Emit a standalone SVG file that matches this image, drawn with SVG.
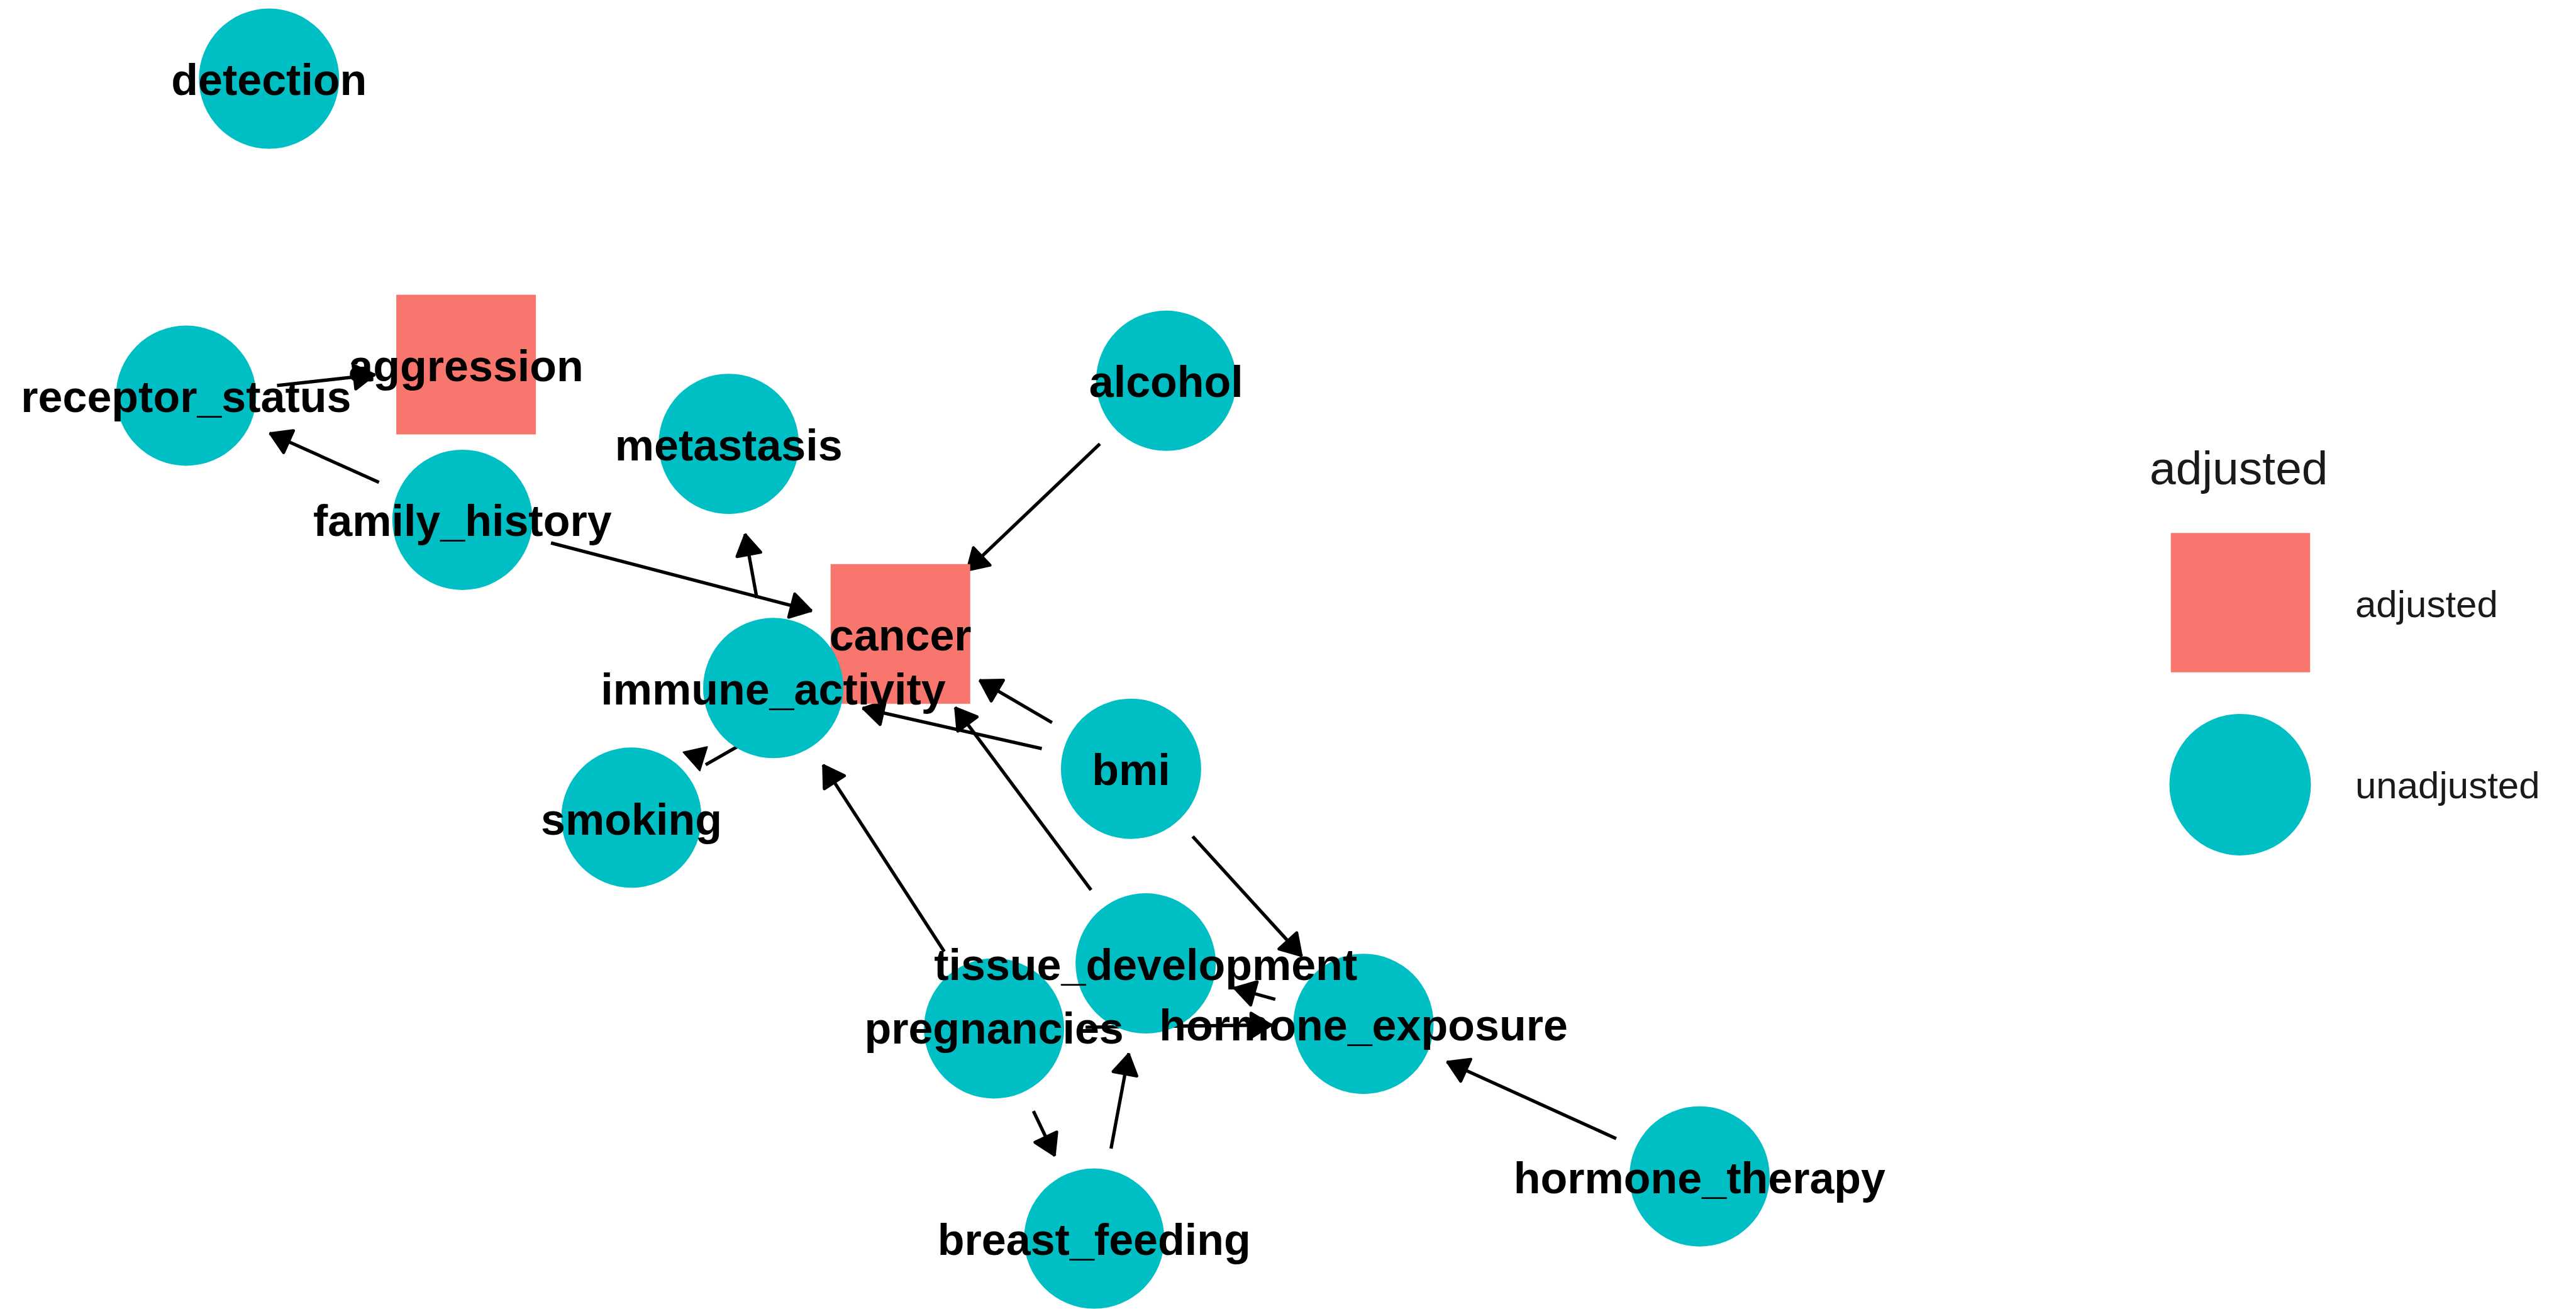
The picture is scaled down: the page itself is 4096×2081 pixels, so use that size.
<svg xmlns="http://www.w3.org/2000/svg" width="4096" height="2081" viewBox="0 0 4096 2081">
<defs>
<style>
.edge{stroke:#000;stroke-width:5.3;fill:none;stroke-linecap:butt;marker-end:url(#ah)}
.circ{fill:#00BFC4}
.sq{fill:#F8766D}
.lbl{font-family:"Liberation Sans",Arial,sans-serif;font-weight:bold;font-size:70px;fill:#000;text-anchor:middle}
.leg{font-family:"Liberation Sans",Arial,sans-serif;fill:#1a1a1a}
</style>
<marker id="ah" viewBox="-45 -28 56 56" markerWidth="56" markerHeight="56" refX="0" refY="0" orient="auto" markerUnits="userSpaceOnUse">
<path d="M-2,0 L-33,-19 L-33,19 Z" fill="#000" stroke="#000" stroke-width="5" stroke-linejoin="round"/>
</marker>
</defs>
<rect width="4096" height="2081" fill="#fff"/>
<g id="edges">
<line class="edge" x1="440.5" y1="612.95" x2="596.5" y2="595.65"/>
<line class="edge" x1="602.6" y1="766.8" x2="428.6" y2="688.6"/>
<line class="edge" x1="876.1" y1="863.1" x2="1290.9" y2="971.1"/>
<line class="edge" x1="1203.4" y1="950.7" x2="1184.8" y2="848.8"/>
<line class="edge" x1="1748.9" y1="705.7" x2="1537.1" y2="907.4"/>
<line class="edge" x1="1672.8" y1="1148.8" x2="1557.3" y2="1081.2"/>
<line class="edge" x1="1656.5" y1="1190.2" x2="1371.4" y2="1125.8"/>
<line x1="1217.7" y1="1161.1" x2="1122.0" y2="1215.7" stroke="#000" stroke-width="5.3"/>
<polygon points="1086.5,1195.8 1124.6,1187.3 1112.8,1225.3" fill="#000" stroke="#000" stroke-width="2" stroke-linejoin="round"/>
<line class="edge" x1="1734.8" y1="1414.9" x2="1518.6" y2="1124.5"/>
<line class="edge" x1="1501.4" y1="1512.8" x2="1308.7" y2="1215.9"/>
<line class="edge" x1="1896.4" y1="1329.7" x2="2070.0" y2="1520.2"/>
<line class="edge" x1="2027.8" y1="1588.8" x2="1961.9" y2="1570.5"/>
<line class="edge" x1="1726.1" y1="1633.1" x2="2022.5" y2="1629.5"/>
<line class="edge" x1="1643.2" y1="1766.3" x2="1677.2" y2="1837.7"/>
<line class="edge" x1="1766.6" y1="1826.1" x2="1794.9" y2="1674.6"/>
<line class="edge" x1="2569.9" y1="1810.1" x2="2300.5" y2="1687.8"/>
</g>
<g id="node-detection"><circle class="circ" cx="427.8" cy="125.1" r="111.5"/></g>
<g id="node-aggression"><rect class="sq" x="630.1" y="468.6" width="222" height="222"/></g>
<g id="node-receptor_status"><circle class="circ" cx="295.9" cy="629.0" r="111.5"/></g>
<g id="node-family_history"><circle class="circ" cx="735.3" cy="826.4" r="111.5"/></g>
<g id="node-metastasis"><circle class="circ" cx="1158.7" cy="705.7" r="111.5"/></g>
<g id="node-alcohol"><circle class="circ" cx="1854.3" cy="605.3" r="111.5"/></g>
<g id="node-cancer"><rect class="sq" x="1320.7" y="896.8" width="222" height="222"/></g>
<g id="node-immune_activity"><circle class="circ" cx="1229.5" cy="1093.8" r="111.5"/></g>
<g id="node-smoking"><circle class="circ" cx="1004.0" cy="1299.8" r="111.5"/></g>
<g id="node-bmi"><circle class="circ" cx="1798.4" cy="1222.2" r="111.5"/></g>
<g id="node-tissue_development"><circle class="circ" cx="1821.7" cy="1531.6" r="111.5"/></g>
<g id="node-pregnancies"><circle class="circ" cx="1580.6" cy="1634.9" r="111.5"/></g>
<g id="node-hormone_exposure"><circle class="circ" cx="2168.0" cy="1627.7" r="111.5"/></g>
<g id="node-hormone_therapy"><circle class="circ" cx="2702.4" cy="1870.2" r="111.5"/></g>
<g id="node-breast_feeding"><circle class="circ" cx="1739.8" cy="1969.1" r="111.5"/></g>
<g id="labels">
<text class="lbl" x="427.8" y="151.3">detection</text>
<text class="lbl" x="741.1" y="605.6">aggression</text>
<text class="lbl" x="295.9" y="655.0">receptor_status</text>
<text class="lbl" x="735.3" y="852.4">family_history</text>
<text class="lbl" x="1158.7" y="732.0">metastasis</text>
<text class="lbl" x="1854.3" y="631.3">alcohol</text>
<text class="lbl" x="1431.7" y="1033.8">cancer</text>
<text class="lbl" x="1229.5" y="1119.8">immune_activity</text>
<text class="lbl" x="1004.0" y="1327.0">smoking</text>
<text class="lbl" x="1798.4" y="1248.2">bmi</text>
<text class="lbl" x="1821.7" y="1557.6">tissue_development</text>
<text class="lbl" x="1580.6" y="1659.0">pregnancies</text>
<text class="lbl" x="2168.0" y="1654.0">hormone_exposure</text>
<text class="lbl" x="2702.4" y="1896.5">hormone_therapy</text>
<text class="lbl" x="1739.8" y="1995.1">breast_feeding</text>
</g>
<g id="legend">
<text class="leg" x="3418" y="770" font-size="75" fill="#000">adjusted</text>
<rect class="sq" x="3451.7" y="847.3" width="221.5" height="221.5"/>
<circle class="circ" cx="3562" cy="1247.4" r="112.5"/>
<text class="leg" x="3745" y="980.7" font-size="60">adjusted</text>
<text class="leg" x="3745" y="1268.8" font-size="60">unadjusted</text>
</g>
</svg>
